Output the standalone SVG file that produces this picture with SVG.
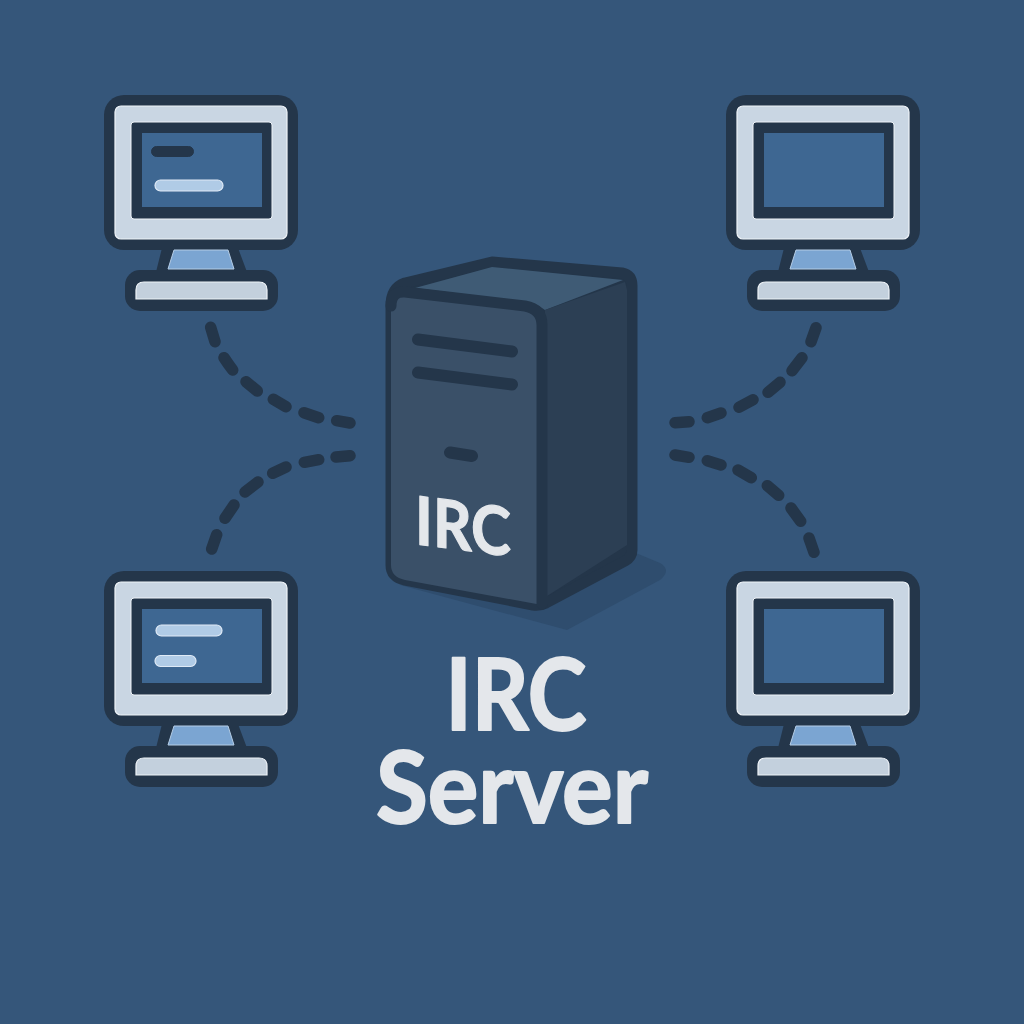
<svg xmlns="http://www.w3.org/2000/svg" width="1024" height="1024" viewBox="0 0 1024 1024">
<style>
.bg{fill:#35567a}
.dk{fill:#24364a}
.ol{fill:none;stroke:#24364a;stroke-width:12;stroke-linejoin:round;stroke-linecap:round}
.panel{fill:#c9d6e3;stroke:#eef3f8;stroke-width:1.2}
.scr{fill:#3e6792}
.stand{fill:#7ba5d2;stroke:#b5cde6;stroke-width:1}
.base{fill:#c3d0dd;stroke:#eef3f8;stroke-width:1.2}
.barL{fill:#b0cbe6;stroke:#dfeaf6;stroke-width:1.2}
.barD{fill:#24364a;stroke:#24364a;stroke-width:1}
.dash{fill:none;stroke:#24364a;stroke-width:11.5;stroke-linecap:round}
.txt{font-family:"Lato","Open Sans","Liberation Sans",sans-serif;font-weight:700;fill:#e4e7eb;stroke:#e4e7eb;stroke-linejoin:round}
</style>
<defs>
<g id="monitor">
<path class="dk" d="M162,248L174,248L228,248L238,248L247,272L156,272Z"/>
<rect class="dk" x="104" y="95" width="194" height="155" rx="20"/>
<rect class="panel" x="115" y="106" width="172" height="133" rx="6"/>
<rect class="dk" x="131" y="122" width="141" height="97" rx="3" stroke="#eef3f8" stroke-width="1"/>
<rect class="scr" x="142" y="133" width="120" height="74"/>
<path class="stand" d="M174,250L228,250L234,269L168,269Z"/>
<rect class="dk" x="125" y="270" width="153" height="41" rx="15"/>
<path class="base" d="M136,299L136,290Q136,282 144,282L259,282Q267,282 267,290L267,299Z"/>
</g>
</defs>
<rect class="bg" width="1024" height="1024"/>
<g id="connectors">
<path class="dash" d="M210.7,327.3L215,341.7M224,357.7Q228,364 232.7,370M246,381.7L257.3,391M273.3,399.3L286,406.7M304,412.7L318.7,417.7M336.7,420.7L350,423"/>
<path class="dash" d="M211.7,549L216.7,534.7M225,518.3L234,505M245,492L258,482M272.7,473.3L286,467M304.3,462.3L318.7,459.7M336,457L350,455.7"/>
<path class="dash" d="M816,327.7L811,341.7M802,357.7L792,370.7M780,382.3L768,392.3M753,399.7L739,407.3M721,413L707.3,417.7M689,421.7L675,422.7"/>
<path class="dash" d="M675,455L689,457.3M707.3,460.7L721,465M738,470L751.3,477.7M767.3,485.7L778.7,495.3M791,508L800.7,521.3M809,538L814,552.3"/>
</g>
<g id="client-top-left">
<use href="#monitor"/>
<rect class="barD" x="151.500" y="146.500" width="42" height="10" rx="5"/>
<rect class="barL" x="155" y="180" width="68" height="11" rx="5.500"/>
</g>
<g id="client-top-right">
<use href="#monitor" x="622"/>
</g>
<g id="client-bottom-left">
<use href="#monitor" y="476"/>
<rect class="barL" x="156" y="625" width="66" height="11" rx="5.500"/>
<rect class="barL" x="155" y="655.500" width="41" height="11" rx="5.500"/>
</g>
<g id="client-bottom-right">
<use href="#monitor" x="622" y="476"/>
</g>
<g id="irc-server">
<path fill="#2f4d6e" d="M400,585L567,630L660,580Q672,570 660,563L636,553Z"/>
<path class="dk" stroke="#24364a" stroke-width="11" stroke-linejoin="round" d="M391,306Q391,288 405,283L492,262L622,273Q632,275 632,286L632,550Q632,557 625,561L546,603Q540,606 533,605L405,580Q391,577 391,565Z"/>
<path fill="#3f5b75" d="M415,288L492,267L623,280L545,310Q537,304 527,302Z"/>
<path fill="#2c3f54" d="M545,310L625,282L627,290L627,545L547,596Z"/>
<path fill="#3a5068" d="M391,306Q391,291 405,292L525,306Q542,309 542,325L542,605L405,580Q391,577 391,565Z"/>
<path class="ol" style="stroke-width:11" d="M391,306Q391,291 405,292L525,306Q542,309 542,325L542,604"/>
<path class="ol" d="M418,339.500L512,351.500M418,372.500L512,384.500M450,452.500L472,456"/>
<text class="txt" stroke-width="1.2" font-size="67" transform="matrix(0.9,0.117,0,1,415,544)">IRC</text>
</g>
<g id="title">
<text class="txt" stroke-width="2" font-size="99" text-anchor="middle" x="516" y="730" textLength="141" lengthAdjust="spacingAndGlyphs">IRC</text>
<text class="txt" stroke-width="2" font-size="99" text-anchor="middle" x="512" y="823" textLength="272" lengthAdjust="spacingAndGlyphs">Server</text>
</g>
</svg>
